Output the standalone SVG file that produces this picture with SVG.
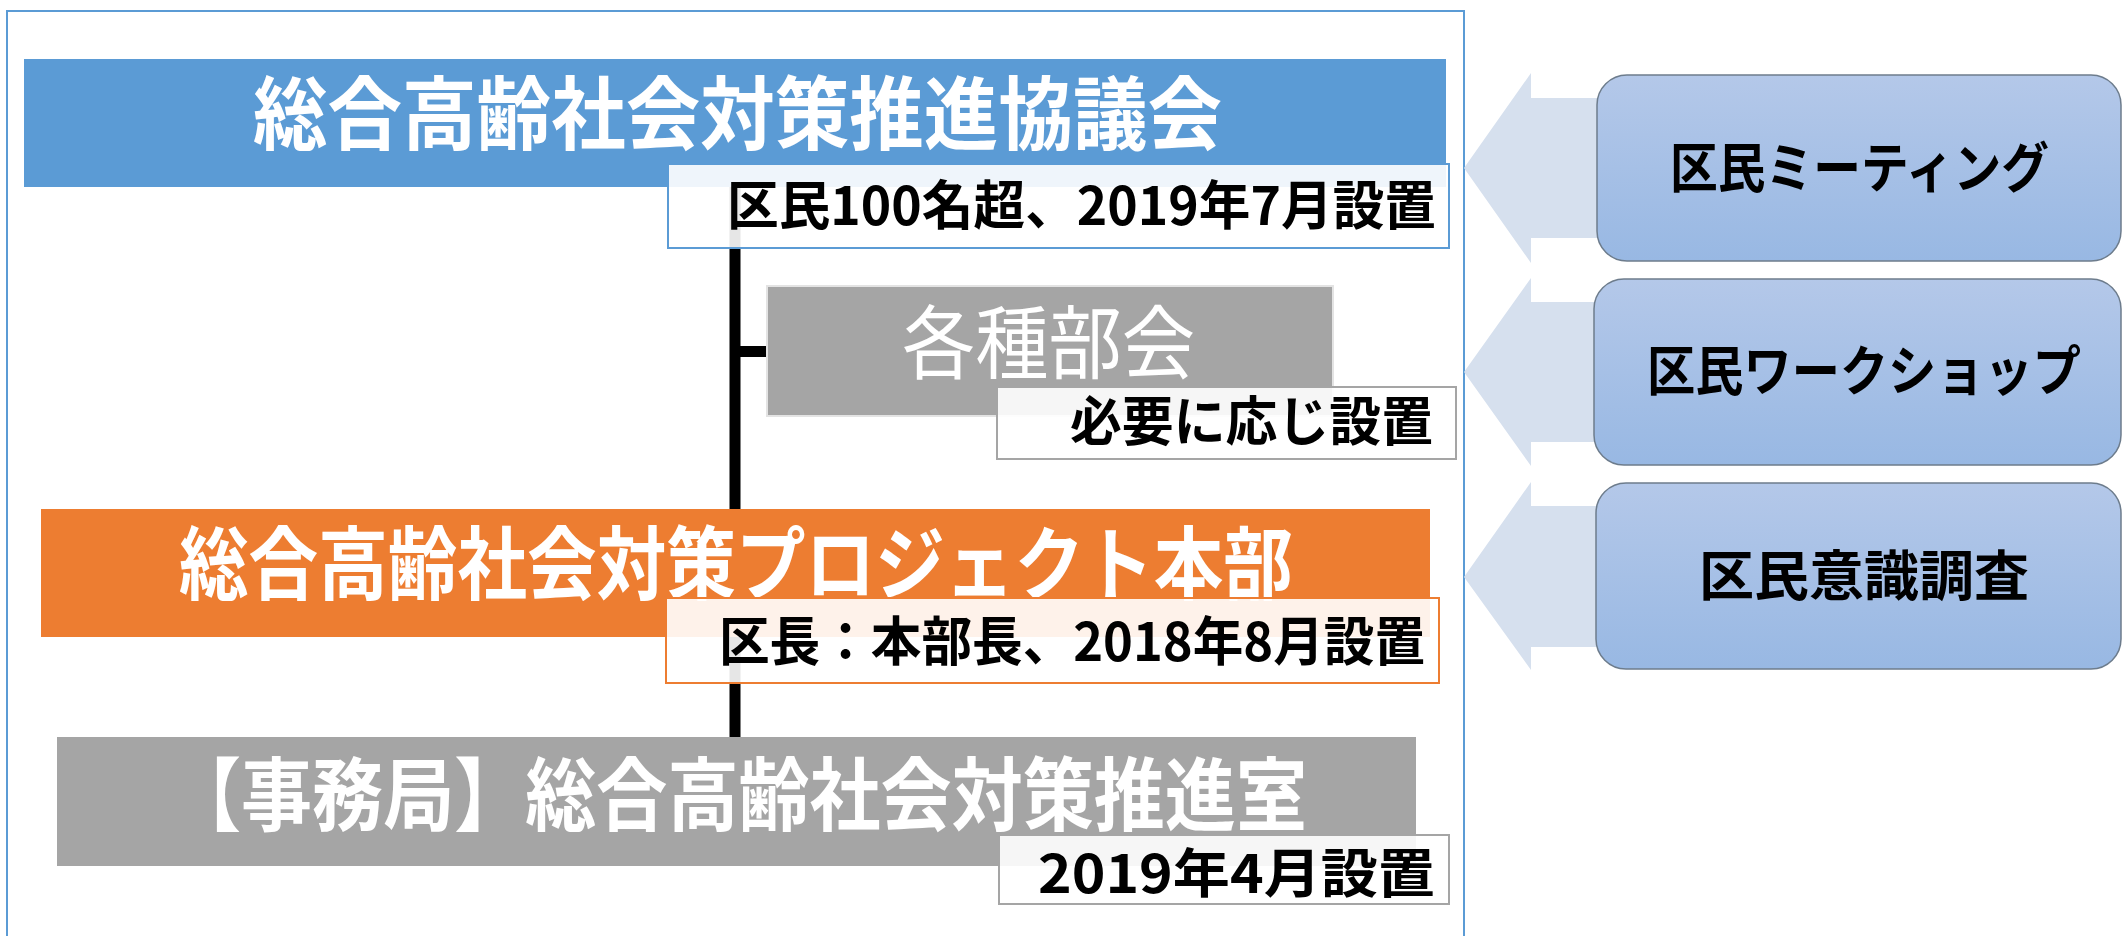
<svg xmlns="http://www.w3.org/2000/svg" width="2122" height="936" viewBox="0 0 2122 936">
<defs>
<linearGradient id="gb" x1="0" y1="0" x2="0" y2="1">
<stop offset="0" stop-color="#b4c8e9"/>
<stop offset="1" stop-color="#98b8e3"/>
</linearGradient>
<style>
text{font-family:"Noto Sans CJK JP","Noto Sans CJK SC",sans-serif;}
.title{font-size:80px;font-weight:bold;fill:#ffffff;}
.sub{font-size:53px;font-weight:bold;fill:#000000;}
.side{font-size:54px;font-weight:bold;fill:#000000;}
.arrow{fill:#d6e0ee;}
.pill{fill:url(#gb);stroke:#6d7c8c;stroke-width:1.5;}
.lbl{fill:#ffffff;fill-opacity:0.9;stroke-width:2;}
</style>
</defs>
<rect x="0" y="0" width="2122" height="936" fill="#ffffff"/>
<rect id="frame" x="7" y="11" width="1457" height="940" fill="none" stroke="#5b9bd5" stroke-width="2"/>

<g id="connectors">
<line x1="735" y1="187" x2="735" y2="737" stroke="#000000" stroke-width="11"/>
<line x1="735" y1="351.5" x2="767" y2="351.5" stroke="#000000" stroke-width="11"/>
<polygon class="arrow" points="1464,168 1531,73 1531,98 1610,98 1610,238 1531,238 1531,263"/>
<polygon class="arrow" points="1464,372 1531,278 1531,302 1610,302 1610,442 1531,442 1531,466"/>
<polygon class="arrow" points="1464,577 1531,482 1531,506 1610,506 1610,647 1531,647 1531,670"/>
</g>

<g id="council">
<rect x="24" y="59" width="1422" height="128" fill="#5b9bd5"/>
<text class="title" x="253" y="143" textLength="969" lengthAdjust="spacingAndGlyphs">総合高齢社会対策推進協議会</text>
<rect class="lbl" x="668" y="164" width="781" height="84" stroke="#5b9bd5"/>
<text class="sub" x="727" y="225" textLength="709" lengthAdjust="spacingAndGlyphs">区民100名超、2019年7月設置</text>
</g>

<g id="subcommittee">
<rect x="767" y="286" width="566" height="130" fill="#a5a5a5" stroke="#e3e3e3" stroke-width="2"/>
<text x="902" y="372" font-size="80" fill="#ffffff" textLength="293" lengthAdjust="spacingAndGlyphs">各種部会</text>
<rect class="lbl" x="997" y="387" width="459" height="72" stroke="#a5a5a5"/>
<text class="sub" x="1070" y="441" font-size="54" textLength="363" lengthAdjust="spacingAndGlyphs">必要に応じ設置</text>
</g>

<g id="project">
<rect x="41" y="509" width="1389" height="128" fill="#ed7d31"/>
<text class="title" x="179" y="593" textLength="1114" lengthAdjust="spacingAndGlyphs">総合高齢社会対策プロジェクト本部</text>
<rect class="lbl" x="666" y="598" width="773" height="85" stroke="#ed7d31"/>
<text class="sub" x="719" y="661" textLength="706" lengthAdjust="spacingAndGlyphs">区長：本部長、2018年8月設置</text>
</g>

<g id="secretariat">
<rect x="57" y="737" width="1359" height="129" fill="#a5a5a5"/>
<text class="title" x="170" y="824" textLength="1137" lengthAdjust="spacingAndGlyphs">【事務局】総合高齢社会対策推進室</text>
<rect class="lbl" x="999" y="835" width="450" height="69" stroke="#a5a5a5"/>
<text class="sub" x="1038" y="893" textLength="397" lengthAdjust="spacingAndGlyphs">2019年4月設置</text>
</g>

<g id="meeting">
<rect class="pill" x="1597" y="75" width="524" height="186" rx="30" ry="30"/>
<text class="side" x="1670" y="188" textLength="379" lengthAdjust="spacingAndGlyphs">区民ミーティング</text>
</g>

<g id="workshop">
<rect class="pill" x="1594" y="279" width="527" height="186" rx="30" ry="30"/>
<text class="side" x="1647" y="391" textLength="434" lengthAdjust="spacingAndGlyphs">区民ワークショップ</text>
</g>

<g id="survey">
<rect class="pill" x="1596" y="483" width="525" height="186" rx="30" ry="30"/>
<text class="side" x="1699" y="596" textLength="330" lengthAdjust="spacingAndGlyphs">区民意識調査</text>
</g>
</svg>
